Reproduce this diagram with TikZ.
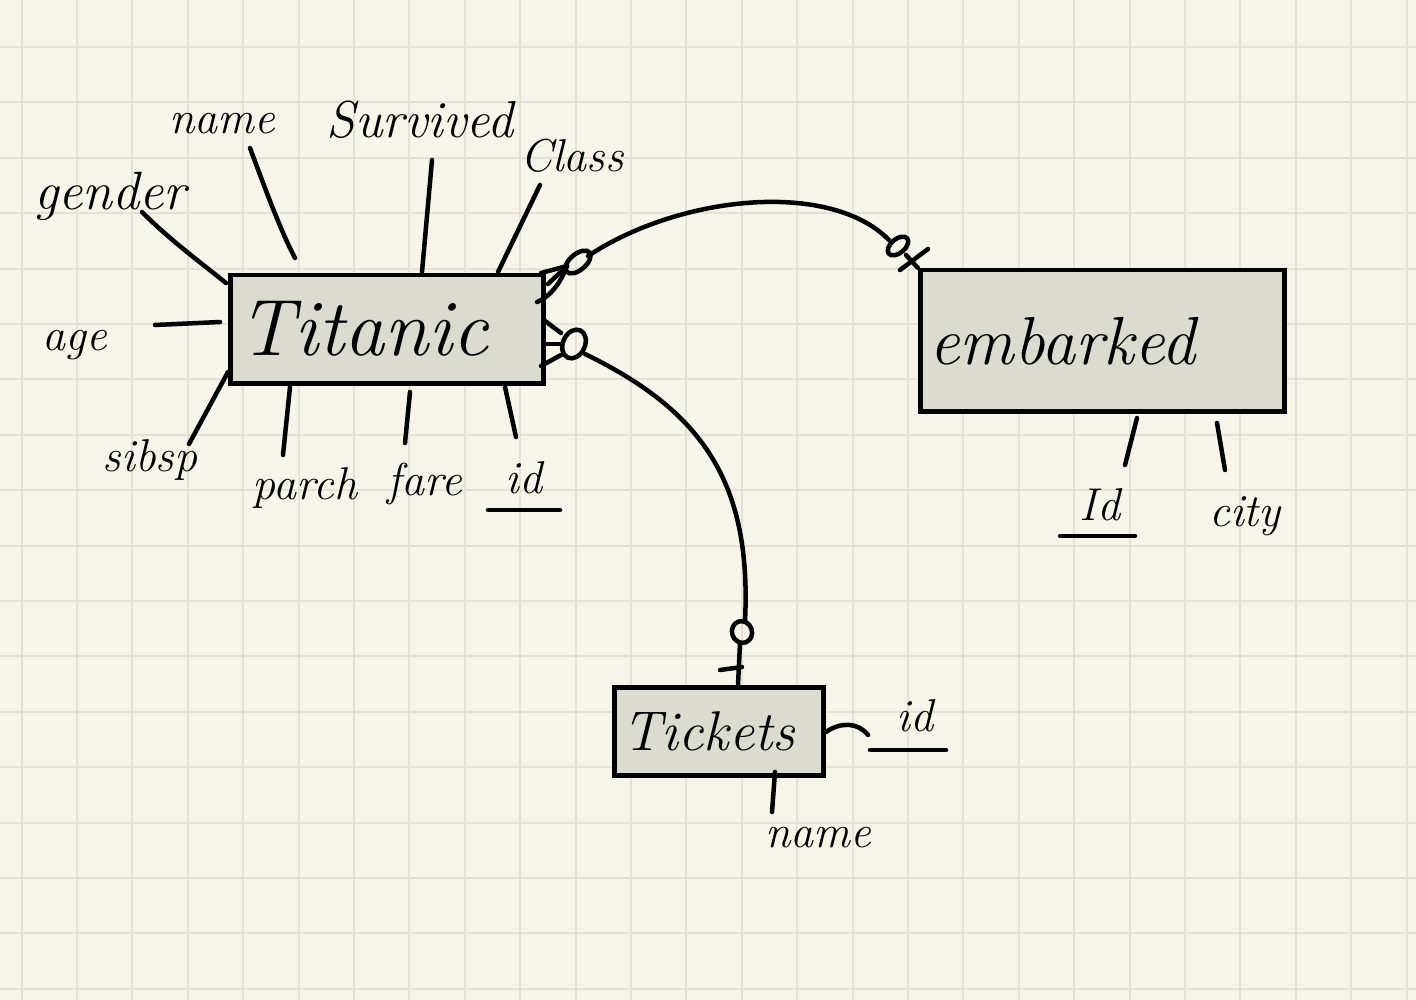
\documentclass[tikz,border=0pt]{standalone}
\usetikzlibrary{calc}
\definecolor{paper}{HTML}{F7F5EA}
\definecolor{gridc}{HTML}{E5E2D5}
\definecolor{boxfill}{HTML}{DCDBD0}
\begin{document}
\begin{tikzpicture}[x=1pt,y=-1pt,
  ink/.style={line width=4.5pt,line cap=round,line join=round},
  entity/.style={draw,line width=4.5pt,fill=boxfill,inner sep=0pt,anchor=north west},
  lbl/.style={font=\fontsize{46}{46}\selectfont\itshape,inner sep=0pt}]
% background and grid
\fill[paper] (0,0) rectangle (1416,1000);
\useasboundingbox (0,0) rectangle (1416,1000);
\foreach \i in {0,...,25} {\draw[gridc,line width=2pt] ({21.5+55.4*\i},0) -- ({21.5+55.4*\i},1000);}
\foreach \j in {0,...,17} {\draw[gridc,line width=2pt] (0,{47+55.4*\j}) -- (1416,{47+55.4*\j});}
% entities
\node[entity,minimum width=313pt,minimum height=108pt] (titanic) at (228,273) {\fontsize{80}{80}\selectfont\itshape Titanic\rule{46pt}{0pt}};
\node[entity,minimum width=364pt,minimum height=141pt] (embarked) at (918,268) {\fontsize{68}{68}\selectfont\itshape embarked\rule{80pt}{0pt}};
\node[entity,minimum width=209pt,minimum height=88pt] (tickets) at (612,685) {\fontsize{56}{56}\selectfont\itshape Tickets\rule{20pt}{0pt}};
% Titanic attributes
\node[lbl,font=\fontsize{54}{54}\selectfont\itshape] (gender) at (110,196) {gender};
\node[lbl] (name) at (222,124) {name};
\node[lbl,font=\fontsize{52}{52}\selectfont\itshape] (survived) at (420,120) {Survived};
\node[lbl] (class) at (572,156) {Class};
\node[lbl] (age) at (75,345) {age};
\node[lbl] (sibsp) at (150,460) {sibsp};
\node[lbl] (parch) at (305,488) {parch};
\node[lbl] (fare) at (425,484) {fare};
\node[lbl] (tid) at (524,478) {id};
\coordinate (g1) at (142,212); \coordinate (g2) at (226,283);
\coordinate (n1) at (250,148); \coordinate (n2) at (295,258);
\coordinate (s1) at (432,160); \coordinate (s2) at (422,272);
\coordinate (c1) at (540,185); \coordinate (c2) at (498,272);
\coordinate (a1) at (155,325); \coordinate (a2) at (220,322);
\coordinate (b1) at (228,372); \coordinate (b2) at (189,444);
\coordinate (p1) at (290,387); \coordinate (p2) at (283,455);
\coordinate (f1) at (410,392); \coordinate (f2) at (405,443);
\coordinate (i1) at (505,387); \coordinate (i2) at (516,437);
\draw[ink] (g1) .. controls (170,240) and (200,262) .. (g2);
\draw[ink] (n1) .. controls (262,180) and (280,230) .. (n2);
\draw[ink] (s1) -- (s2);
\draw[ink] (c1) -- (c2);
\draw[ink] (a1) -- (a2);
\draw[ink] (b1) -- (b2);
\draw[ink] (p1) -- (p2);
\draw[ink] (f1) -- (f2);
\draw[ink] (i1) -- (i2);
\coordinate (u1) at (488,510); \coordinate (u2) at (560,510);
\draw[ink] (u1) -- (u2);
% embarked attributes
\node[lbl] (eid) at (1100,505) {Id};
\node[lbl] (city) at (1245,516) {city};
\coordinate (e1) at (1137,418); \coordinate (e2) at (1125,465);
\coordinate (y1) at (1217,423); \coordinate (y2) at (1225,470);
\draw[ink] (e1) -- (e2);
\draw[ink] (y1) -- (y2);
\coordinate (eu1) at (1060,536); \coordinate (eu2) at (1135,536);
\draw[ink] (eu1) -- (eu2);
% tickets attributes
\node[lbl] (kid) at (915,716) {id};
\node[lbl] (kname) at (818,838) {name};
\coordinate (k1) at (826,732); \coordinate (k2) at (868,735);
\draw[ink] (k1) .. controls (840,722) and (858,722) .. (k2);
\coordinate (m1) at (775,772); \coordinate (m2) at (772,812);
\draw[ink] (m1) -- (m2);
\coordinate (ku1) at (870,750); \coordinate (ku2) at (946,750);
\draw[ink] (ku1) -- (ku2);
% relationship Titanic -- embarked
\coordinate (r1s) at (588,256);
\coordinate (r1e) at (889,240);
\draw[ink] (r1s) .. controls (680,195) and (830,180) .. (r1e);
\draw[ink] (578,262) ellipse [x radius=15pt, y radius=8pt, rotate=40];
\coordinate (cf1) at (567,266);
\draw[ink] (cf1) -- (541,273);
\draw[ink] (cf1) -- (548,284);
\draw[ink] (cf1) .. controls (560,285) and (548,298) .. (537,302);
\draw[ink] (898,246) ellipse [x radius=12pt, y radius=7pt, rotate=40];
\draw[ink] (906,255) -- (embarked.north west);
\draw[ink] (900,270) -- (928,249);
% relationship Titanic -- Tickets
\draw[ink] (574,344) ellipse [x radius=11pt, y radius=15pt, rotate=-25];
\draw[ink] (561,333) -- (545,321);
\draw[ink] (562,344) -- (547,344);
\draw[ink] (561,355) -- (541,366);
\coordinate (r2s) at (585,354);
\coordinate (r2e) at (745,621);
\draw[ink] (r2s) .. controls (700,410) and (752,480) .. (r2e);
\draw[ink] (742,632) ellipse [x radius=10pt, y radius=11pt, rotate=20];
\draw[ink] (740,643) -- (tickets.north -| 738,0);
\draw[ink] (720,670) -- (742,667);
\end{tikzpicture}
\end{document}
